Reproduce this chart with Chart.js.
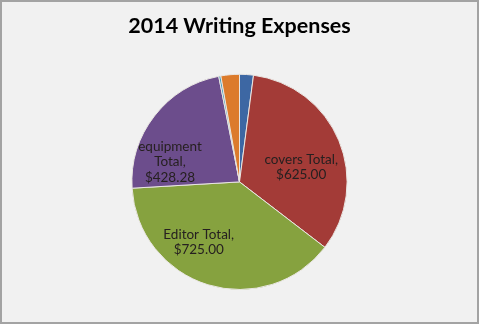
<!DOCTYPE html>
<html>
<head>
<meta charset="utf-8">
<script src="https://cdn.jsdelivr.net/npm/chart.js@4"></script>
<style>
  html, body { margin: 0; padding: 0; background: #f1f1f1; }
  #wrap { width: 479px; height: 324px; box-sizing: border-box; border: 2px solid #a3a3a3; background: #f1f1f1; }
  #c { display: block; }
</style>
</head>
<body>
<div id="wrap"><canvas id="c" width="475" height="320"></canvas></div>
<script>
// data (clockwise from 12 o'clock)
const categories = ['misc', 'covers', 'Editor', 'equipment', 'other', 'supplies'];
const amounts = [39, 625, 725, 428.28, 6, 52];
const showLabel = [false, true, true, true, false, false];
const sliceColors = ['#3d67a3', '#a33b37', '#86a23f', '#6c4d8c', '#4a9fbb', '#dc7b2c'];

// label nudges from the slice's tooltip point (px)
const labelNudge = [[0, 0], [12, 6], [-25, 9], [-27, 13], [0, 0], [0, 0]];

function labelLines(i) {
  const name = categories[i] + ' Total,';
  const val = '$' + amounts[i].toFixed(2);
  if (categories[i].length > 7) return [categories[i], 'Total,', val];
  return [name, val];
}

const sliceLabels = {
  id: 'sliceLabels',
  afterDatasetsDraw(chart) {
    const ctx = chart.ctx;
    const meta = chart.getDatasetMeta(0);
    ctx.save();
    ctx.font = '13.5px Lato';
    ctx.fillStyle = '#262020';
    ctx.textAlign = 'center';
    ctx.textBaseline = 'middle';
    meta.data.forEach(function(arc, i) {
      if (!showLabel[i]) return;
      const p = arc.tooltipPosition();
      const lines = labelLines(i);
      const lh = 15.5;
      const x = p.x + labelNudge[i][0];
      const y0 = p.y + labelNudge[i][1] - (lines.length - 1) * lh / 2;
      lines.forEach(function(t, k) { ctx.fillText(t, x, y0 + k * lh); });
    });
    ctx.restore();
  }
};

new Chart(document.getElementById('c'), {
  type: 'pie',
  data: {
    labels: categories,
    datasets: [{
      data: amounts,
      backgroundColor: sliceColors,
      borderColor: '#e9e6e2',
      borderWidth: 1
    }]
  },
  options: {
    responsive: false,
    animation: false,
    layout: { padding: { top: 0, bottom: 32, left: 0, right: 0 } },
    plugins: {
      legend: { display: false },
      tooltip: { enabled: false },
      title: {
        display: true,
        text: '2014 Writing Expenses',
        color: '#000',
        font: { family: 'Lato', size: 21.5, weight: 'bold', lineHeight: 1.2 },
        padding: { top: 11, bottom: 35 }
      }
    }
  },
  plugins: [sliceLabels]
});
</script>
</body>
</html>
